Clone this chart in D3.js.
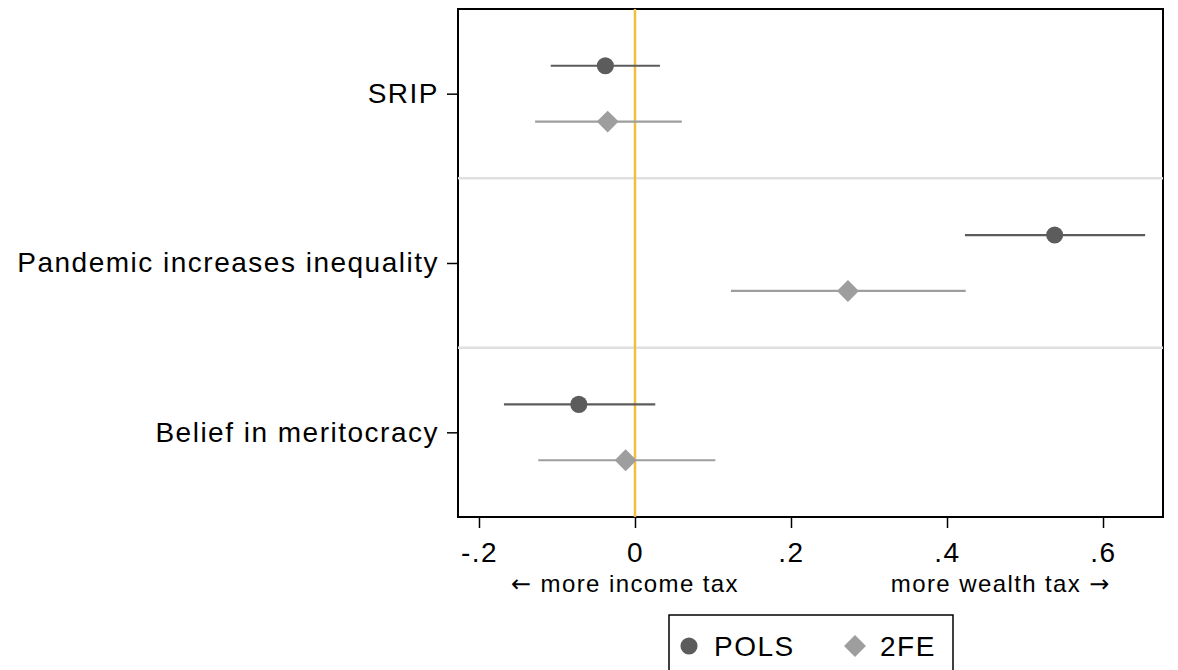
<!DOCTYPE html>
<html>
<head>
<meta charset="utf-8">
<script src="https://cdn.jsdelivr.net/npm/d3@7"></script>
<style>
  body { margin: 0; background: #fff; }
  text { font-family: "Liberation Sans", Arial, sans-serif; }
</style>
</head>
<body>
<div id="chart"></div>
<script>
const categories = ["SRIP", "Pandemic increases inequality", "Belief in meritocracy"];
const seriesNames = ["POLS", "2FE"];
const polsEst = [-0.038, 0.538, -0.072];
const polsLo = [-0.108, 0.423, -0.168];
const polsHi = [0.032, 0.654, 0.026];
const feEst = [-0.035, 0.273, -0.012];
const feLo = [-0.128, 0.123, -0.124];
const feHi = [0.060, 0.424, 0.103];
const xTicks = [-0.2, 0, 0.2, 0.4, 0.6];
const xTickLabels = ["-.2", "0", ".2", ".4", ".6"];

const width = 1178;
const height = 670;
const margin = {top: 9, right: 15, bottom: 153, left: 458};
const colors = ["#5c5c5c", "#9e9e9e"];

const svg = d3.select('#chart')
    .append('svg')
    .attr('width', width)
    .attr('height', height);

const x = d3.scaleLinear()
    .domain([-0.2269, 0.6769])
    .range([margin.left, width - margin.right]);
const y = d3.scaleLinear()
    .domain([0.5, 3.5])
    .range([margin.top, height - margin.bottom]);

// rows: one per category & series
const rows = [];
categories.forEach((c, i) => {
    rows.push({cat: i + 1, s: 0, est: polsEst[i], lo: polsLo[i], hi: polsHi[i], off: -0.165});
    rows.push({cat: i + 1, s: 1, est: feEst[i], lo: feLo[i], hi: feHi[i], off: 0.165});
});

// frame
svg.append('rect')
    .attr('x', x.range()[0])
    .attr('y', y.range()[0])
    .attr('width', x.range()[1] - x.range()[0])
    .attr('height', y.range()[1] - y.range()[0])
    .attr('fill', 'none')
    .attr('stroke', '#000')
    .attr('stroke-width', 2);

// separators between categories
svg.selectAll('.sep')
    .data([1.5, 2.5])
    .enter()
    .append('line')
        .attr('x1', x.range()[0])
        .attr('x2', x.range()[1])
        .attr('y1', d => y(d))
        .attr('y2', d => y(d))
        .attr('stroke', '#e0e0e0')
        .attr('stroke-width', 2.5);

// zero line
svg.append('line')
    .attr('x1', x(0)).attr('x2', x(0))
    .attr('y1', y.range()[0]).attr('y2', y.range()[1])
    .attr('stroke', '#f0c03c')
    .attr('stroke-width', 2.5);

// axes
const yAxis = svg.append('g')
    .attr('transform', `translate(${margin.left},0)`)
    .call(d3.axisLeft(y).tickValues([1, 2, 3]).tickFormat(d => categories[d - 1])
        .tickSize(11).tickPadding(8).tickSizeOuter(0));
const xAxis = svg.append('g')
    .attr('transform', `translate(0,${height - margin.bottom})`)
    .call(d3.axisBottom(x).tickValues(xTicks).tickFormat((d, i) => xTickLabels[i])
        .tickSize(11).tickPadding(14).tickSizeOuter(0));

[yAxis, xAxis].forEach(g => {
    g.select('.domain').remove();
    g.selectAll('.tick line').attr('stroke', '#000').attr('stroke-width', 1.5);
    g.selectAll('.tick text')
        .attr('fill', '#000')
        .style('font-size', '28px')
        .style('letter-spacing', '1.5px')
        .style('font-family', '"Liberation Sans", Arial, sans-serif');
});

// direction notes under the axis
const noteLeft = svg.append('text')
    .attr('x', x(-0.0128))
    .attr('y', 592)
    .attr('text-anchor', 'middle')
    .style('font-size', '24px')
    .style('letter-spacing', '1.4px');
noteLeft.append('tspan').style('font-family', '"DejaVu Sans", sans-serif').text('\u2190');
noteLeft.append('tspan').text(' more income tax');

const noteRight = svg.append('text')
    .attr('x', x(0.469))
    .attr('y', 592)
    .attr('text-anchor', 'middle')
    .style('font-size', '24px')
    .style('letter-spacing', '1.4px');
noteRight.append('tspan').text('more wealth tax ');
noteRight.append('tspan').style('font-family', '"DejaVu Sans", sans-serif').text('\u2192');

// confidence intervals
svg.selectAll('.ci')
    .data(rows)
    .enter()
    .append('line')
        .attr('x1', d => x(d.lo))
        .attr('x2', d => x(d.hi))
        .attr('y1', d => y(d.cat + d.off))
        .attr('y2', d => y(d.cat + d.off))
        .attr('stroke', d => colors[d.s])
        .attr('stroke-width', 2.2);

// point estimates
const circleSym = d3.symbol().type(d3.symbolCircle).size(230);
const diamondSym = d3.symbol().type(d3.symbolSquare).size(240);
svg.selectAll('.pt')
    .data(rows)
    .enter()
    .append('path')
        .attr('d', d => d.s === 0 ? circleSym() : diamondSym())
        .attr('transform', d => `translate(${x(d.est)},${y(d.cat + d.off)})` + (d.s === 1 ? ' rotate(45)' : ''))
        .attr('fill', d => colors[d.s]);

// legend
const legend = svg.append('g');
legend.append('rect')
    .attr('x', 669).attr('y', 615)
    .attr('width', 284).attr('height', 70)
    .attr('fill', '#fff')
    .attr('stroke', '#000')
    .attr('stroke-width', 1.5);
const legendX = [689, 855];
seriesNames.forEach((name, i) => {
    legend.append('path')
        .attr('d', i === 0 ? circleSym() : diamondSym())
        .attr('transform', `translate(${legendX[i]},646)` + (i === 1 ? ' rotate(45)' : ''))
        .attr('fill', colors[i]);
    legend.append('text')
        .attr('x', legendX[i] + 25)
        .attr('y', 656)
        .style('font-size', '28px')
        .style('letter-spacing', '1.5px')
        .text(name);
});
</script>
</body>
</html>
